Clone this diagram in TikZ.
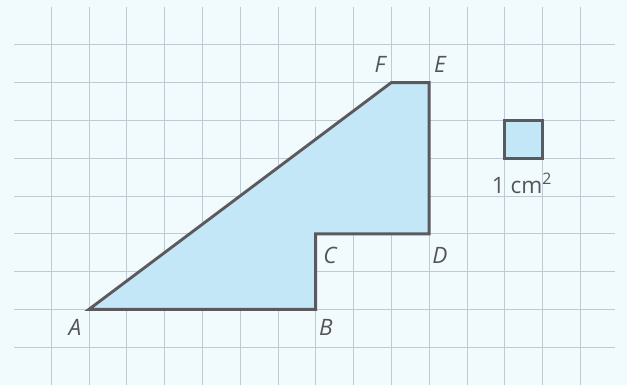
\documentclass[tikz,border=0pt]{standalone}
\usepackage{fontspec}
\setmainfont{Open Sans}
\definecolor{bg}{HTML}{F1FBFD}
\definecolor{gridc}{HTML}{BFCBD2}
\definecolor{fillc}{HTML}{C4E7F7}
\definecolor{linec}{HTML}{5A5A5E}
\definecolor{labc}{HTML}{555558}
\tikzset{
  gridline/.style={draw=gridc, line width=0.5pt},
  figshape/.style={draw=linec, fill=fillc, line width=2.2pt, line join=miter},
  lab/.style={text=labc, font=\fontsize{17}{20}\selectfont\itshape, inner sep=0pt},
  ulab/.style={text=labc, font=\fontsize{17}{20}\selectfont, inner sep=0pt}
}
\begin{document}
\begin{tikzpicture}
\fill[bg] (0,0) rectangle (16.587,10.185);
\useasboundingbox (0,0) rectangle (16.587,10.185);
% grid
\foreach \i in {0,...,14} {
  \draw[gridline] (1.35+\i,0) -- (1.35+\i,10.0);
}
\foreach \j in {1,...,9} {
  \draw[gridline] (0.37,\j) -- (16.27,\j);
}
% points
\coordinate (A) at (2.35,2);
\coordinate (B) at (8.35,2);
\coordinate (C) at (8.35,4);
\coordinate (D) at (11.35,4);
\coordinate (E) at (11.35,8);
\coordinate (F) at (10.35,8);
\draw[figshape] (A) -- (B) -- (C) -- (D) -- (E) -- (F) -- cycle;
% unit square
\coordinate (S1) at (13.35,6);
\coordinate (S2) at (14.35,7);
\draw[figshape] (S1) rectangle (S2);
% labels
\node[lab] (lA) at (1.98,1.53) {A};
\node[lab] (lB) at (8.62,1.53) {B};
\node[lab] (lC) at (8.73,3.44) {C};
\node[lab] (lD) at (11.64,3.44) {D};
\node[lab] (lE) at (11.64,8.47) {E};
\node[lab] (lF) at (10.05,8.47) {F};
\node[ulab] (lS) at (13.81,5.33) {1 cm\textsuperscript{2}};
\end{tikzpicture}
\end{document}
